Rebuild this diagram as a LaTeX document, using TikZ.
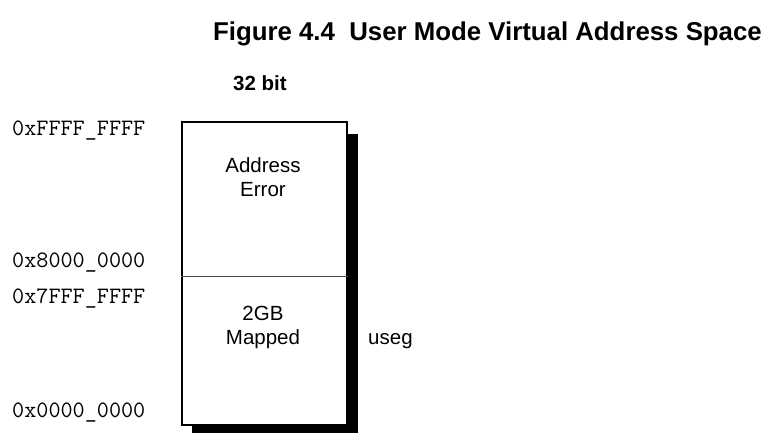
\documentclass[tikz,border=0pt]{standalone}
\usepackage{fontspec}
\setmainfont{Liberation Sans}
\usetikzlibrary{positioning}

\begin{document}
\begin{tikzpicture}[
        x=1pt,y=-1pt,
        txt/.style={font=\fontsize{20.5}{24}\selectfont,align=center,inner sep=0pt},
        addr/.style={font=\ttfamily\fontsize{23.5}{26}\selectfont,anchor=west,inner sep=0pt},
        head/.style={font=\bfseries\fontsize{20.5}{24}\selectfont,inner sep=0pt},
        membox/.style={draw,fill=white,line width=1.6pt,minimum width=165pt,minimum height=303pt,inner sep=0pt,anchor=north west}
    ]
        \useasboundingbox (0,0) rectangle (765,433);

        % Title
        \node[head,font=\bfseries\fontsize{25.8}{30}\selectfont,anchor=east] (title) at (762,34) {Figure 4.4\ \ User Mode Virtual Address Space};
        \node[head] (width) at (260,83) {32 bit};

        % Shadow and box
        \fill[black] (192,134) rectangle (358,434);
        \node[membox] (mem) at (181,121) {};
        \coordinate (split) at (181,276);
        \draw[line width=0.7pt,black!70] (split) -- (split -| mem.east);

        % Regions
        \node[txt] (err) at (263,177) {Address\\Error};
        \node[txt] (map) at (263,327) {2GB\\Mapped};
        \node[txt,anchor=west] (useg) at (368,341) {useg};

        % Addresses
        \node[addr] (a3) at (12,131) {0xFFFF\_FFFF};
        \node[addr] (a2) at (12,263) {0x8000\_0000};
        \node[addr] (a1) at (12,298) {0x7FFF\_FFFF};
        \node[addr] (a0) at (12,413) {0x0000\_0000};
    \end{tikzpicture}
\end{document}
